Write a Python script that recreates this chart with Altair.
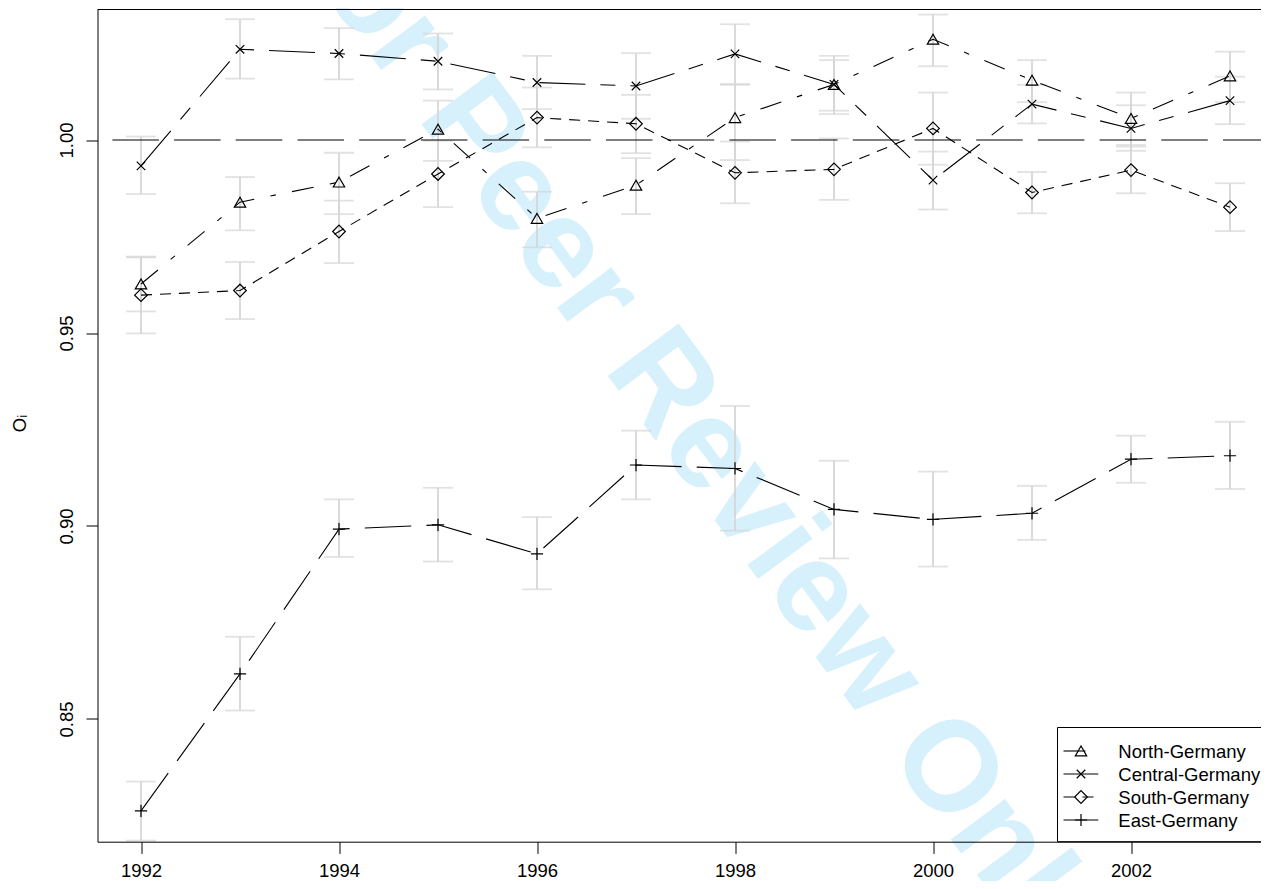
import altair as alt
import pandas as pd

# ---------------- data ----------------
YEARS = [1992, 1993, 1994, 1995, 1996, 1997, 1998, 1999, 2000, 2001, 2002, 2003]
REGIONS = ["North-Germany", "Central-Germany", "South-Germany", "East-Germany"]

NORTH    = [0.9627, 0.9839, 0.9891, 1.0028, 0.9797, 0.9883, 1.0058, 1.0144, 1.0261, 1.0155, 1.0056, 1.0166]
NORTH_HI = [0.9696, 0.9904, 0.9967, 1.0102, 0.9866, 0.9953, 1.0143, 1.0207, 1.0325, 1.0207, 1.0123, 1.0229]
NORTH_LO = [0.9556, 0.9766, 0.9808, 0.9946, 0.9722, 0.9808, 0.9948, 1.0076, 1.0191, 1.0098, 0.9987, 1.0098]

CENTRAL    = [0.9933, 1.0235, 1.0224, 1.0204, 1.0149, 1.0140, 1.0223, 1.0144, 0.9896, 1.0093, 1.0030, 1.0102]
CENTRAL_HI = [1.0009, 1.0313, 1.0290, 1.0276, 1.0218, 1.0225, 1.0300, 1.0218, 0.9970, 1.0143, 1.0090, 1.0164]
CENTRAL_LO = [0.9860, 1.0159, 1.0157, 1.0131, 1.0080, 1.0055, 1.0145, 1.0067, 0.9820, 1.0043, 0.9972, 1.0041]

SOUTH    = [0.9598, 0.9610, 0.9763, 0.9912, 1.0058, 1.0042, 0.9915, 0.9924, 1.0030, 0.9864, 0.9922, 0.9826]
SOUTH_HI = [0.9698, 0.9684, 0.9843, 0.9998, 1.0136, 1.0117, 0.9996, 1.0004, 1.0123, 0.9917, 0.9983, 0.9888]
SOUTH_LO = [0.9499, 0.9536, 0.9681, 0.9826, 0.9981, 0.9966, 0.9836, 0.9845, 0.9936, 0.9810, 0.9862, 0.9764]

EAST    = [0.8262, 0.8617, 0.8992, 0.9003, 0.8928, 0.9158, 0.9149, 0.9043, 0.9017, 0.9033, 0.9173, 0.9182]
EAST_HI = [0.8338, 0.8713, 0.9069, 0.9099, 0.9023, 0.9247, 0.9311, 0.9169, 0.9141, 0.9104, 0.9234, 0.9270]
EAST_LO = [0.8185, 0.8522, 0.8920, 0.8908, 0.8836, 0.9069, 0.8988, 0.8916, 0.8895, 0.8964, 0.9112, 0.9096]

REF_LEVEL = 1.0
X_TICKS = [1992, 1994, 1996, 1998, 2000, 2002]
Y_TICKS = [0.85, 0.90, 0.95, 1.00]
Y_TITLE = "O\u1d62"
WATERMARK = "For Peer Review Only"

# ---------------- table ----------------
series = {
    "North-Germany": (NORTH, NORTH_LO, NORTH_HI),
    "Central-Germany": (CENTRAL, CENTRAL_LO, CENTRAL_HI),
    "South-Germany": (SOUTH, SOUTH_LO, SOUTH_HI),
    "East-Germany": (EAST, EAST_LO, EAST_HI),
}
rows = []
for reg in REGIONS:
    v, lo, hi = series[reg]
    for i, yr in enumerate(YEARS):
        rows.append({"region": reg, "year": yr, "value": v[i], "lo": lo[i], "hi": hi[i]})
df = pd.DataFrame(rows)
legend_df = pd.DataFrame({"region": REGIONS})

# ---------------- styling ----------------
FONT = "Liberation Sans"
FS = 18.5
W = 1163.5
H = 832.2
X_DOMAIN = [1991.5606, 2003.3131]
Y_DOMAIN = [0.81821, 1.03381]

DASHES = [[22, 16.5, 5.5, 16.5], [46, 15, 15, 15], [11, 8], [46.5, 15.2]]
SHAPES = ["triangle-up", "M-1,-1L1,1M-1,1L1,-1", "diamond", "M-1,0L1,0M0,-1L0,1"]
SIZES = [130, 72, 160, 150]
ERR_COLOR = "#d6d6d6"

x_scale = alt.Scale(domain=X_DOMAIN, nice=False, zero=False)
y_scale = alt.Scale(domain=Y_DOMAIN, nice=False, zero=False)
x_axis = alt.Axis(values=X_TICKS, format="d", title=None, grid=False,
                  tickSize=11.7, tickColor="black", domainColor="black",
                  labelPadding=23.1, labelBaseline="alphabetic", labelFontSize=FS,
                  labelFont=FONT, labelColor="black", labelFlush=False,
                  labelOverlap=False, zindex=2)
y_axis = alt.Axis(values=Y_TICKS, format=".2f", title=Y_TITLE, grid=False,
                  tickSize=11.5, tickColor="black", domainColor="black",
                  labelAngle=270, labelAlign="center", labelBaseline="alphabetic",
                  labelPadding=14, labelFontSize=FS, labelFont=FONT, labelColor="black",
                  labelOverlap=False, labelFlush=False,
                  titleAngle=270, titleX=-72.5, titleY=413.5, titleAlign="center",
                  titleBaseline="alphabetic", titleFontSize=FS, titleFont=FONT,
                  titleFontWeight="normal", titleColor="black", zindex=2)

X = alt.X("year:Q", scale=x_scale, axis=x_axis)
dash_enc = alt.StrokeDash("region:N", scale=alt.Scale(domain=REGIONS, range=DASHES), legend=None)
shape_enc = alt.Shape("region:N", scale=alt.Scale(domain=REGIONS, range=SHAPES), legend=None)
size_enc = alt.Size("region:N", scale=alt.Scale(type="ordinal", domain=REGIONS, range=SIZES), legend=None)

base = alt.Chart(df)

err_rules = base.mark_rule(color=ERR_COLOR, strokeWidth=1.8).encode(
    x=X, y=alt.Y("lo:Q", scale=y_scale, axis=y_axis), y2="hi:Q")
caps_lo = base.mark_tick(color=ERR_COLOR, orient="horizontal", size=30, thickness=1.8).encode(
    x=X, y=alt.Y("lo:Q", scale=y_scale, axis=y_axis))
caps_hi = base.mark_tick(color=ERR_COLOR, orient="horizontal", size=30, thickness=1.8).encode(
    x=X, y=alt.Y("hi:Q", scale=y_scale, axis=y_axis))

ref = alt.Chart(pd.DataFrame({"ref": [REF_LEVEL]})).mark_rule(
    color="black", strokeWidth=1.1, strokeDash=[46.5, 15.2], strokeDashOffset=8.5
).encode(y=alt.Y("ref:Q", scale=y_scale, axis=y_axis))

lines = base.mark_line(color="black", strokeWidth=1.1).encode(
    x=X, y=alt.Y("value:Q", scale=y_scale, axis=y_axis),
    strokeDash=dash_enc, detail="region:N", order="year:Q")

points = base.mark_point(filled=False, color="black", strokeWidth=1.2, opacity=1).encode(
    x=X, y=alt.Y("value:Q", scale=y_scale, axis=y_axis),
    shape=shape_enc, size=size_enc)

data_layer = alt.layer(err_rules, caps_lo, caps_hi, ref, lines, points)

# ---------------- legend (drawn with its own row scale) ----------------
y_leg = alt.Y("region:N", scale=alt.Scale(type="point", domain=REGIONS,
                                          range=[741.5, 810.5], padding=0), axis=None)
leg = alt.Chart(legend_df)
leg_box = alt.Chart(pd.DataFrame({"a": [0]})).mark_rect(
    fill="white", stroke="black", strokeWidth=1).encode(
    x=alt.value(960), x2=alt.value(1250), y=alt.value(718), y2=alt.value(H))
leg_lines = leg.mark_rule(color="black", strokeWidth=1.1).encode(
    x=alt.value(966), x2=alt.value(1000.8), y=y_leg, strokeDash=dash_enc)
leg_points = leg.mark_point(filled=False, color="black", strokeWidth=1.2, opacity=1).encode(
    x=alt.value(983.5), y=y_leg, shape=shape_enc, size=size_enc)
leg_text = leg.mark_text(align="left", baseline="alphabetic", dy=6.6, fontSize=FS,
                         font=FONT, color="black").encode(
    x=alt.value(1020.8), y=y_leg, text="region:N")
legend_layer = alt.layer(leg_box, leg_lines, leg_points, leg_text)

# ---------------- watermark & frame ----------------
watermark = alt.Chart(pd.DataFrame({"t": [WATERMARK]})).mark_text(
    font=FONT, fontSize=128, fontWeight="bold", color="#d6f0fc", angle=53.5,
    align="center", baseline="alphabetic").encode(
    x=alt.value(566.5), y=alt.value(442.5), text="t:N")

top_rule = alt.Chart(pd.DataFrame({"a": [0]})).mark_rule(color="black", strokeWidth=1).encode(
    x=alt.value(0), x2=alt.value(W), y=alt.value(0))

chart = alt.layer(watermark, data_layer, legend_layer, top_rule).resolve_scale(
    y="independent"
).properties(
    width=W, height=H,
    autosize=alt.AutoSizeParams(type="none"),
    padding={"left": 89.5, "top": 1.5, "right": 0, "bottom": 39.3},
    background="white",
).configure_view(stroke=None)

chart.save("out.html", embed_options={"renderer": "svg", "actions": False})
